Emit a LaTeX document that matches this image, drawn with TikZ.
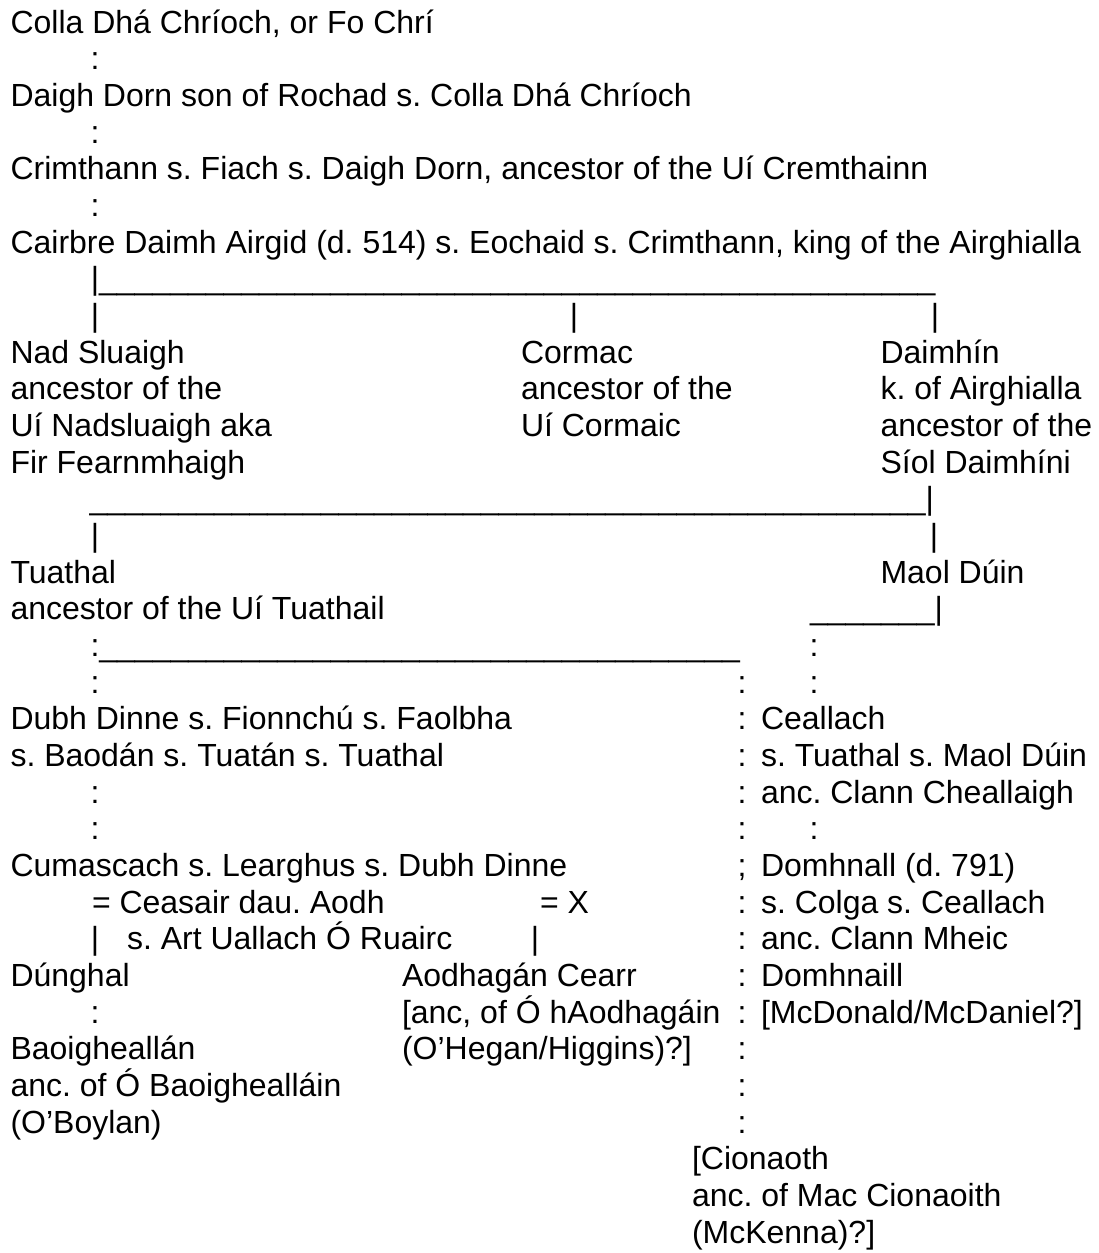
\documentclass[tikz,border=0pt]{standalone}
\usepackage{fontspec}
\setmainfont{Liberation Sans}
\frenchspacing
\ExplSyntaxOn
\cs_new:Npn \usrep #1 {\prg_replicate:nn{#1}{\textunderscore}}
\ExplSyntaxOff
\newcommand\fsz{\fontsize{32}{36.67}\selectfont\frenchspacing}
\tikzset{
  txt/.style={anchor=base west, inner sep=0pt, outer sep=0pt, font=\fsz},
  ctr/.style={anchor=base, inner sep=0pt, outer sep=0pt, font=\fsz}
}
\newcommand\txtnode[4]{\node[txt] (#1) at (#2,{33+(#3-1)*36.67}) {#4};}
\newcommand\glyphnode[4]{\node[ctr] (#1) at (#2,{33+(#3-1)*36.67}) {#4};}
\begin{document}
\begin{tikzpicture}[x=1pt,y=-1pt]
\fill[white] (0,0) rectangle (1098,1253);
\useasboundingbox (0,0) rectangle (1098,1253);
% rows 1-7
\txtnode{a1}{10.5}{1}{Colla Dhá Chríoch, or Fo Chrí}
\glyphnode{c2}{95}{2}{:}
\txtnode{a3}{10.5}{3}{Daigh Dorn son of Rochad s. Colla Dhá Chríoch}
\glyphnode{c4}{95}{4}{:}
\txtnode{a5}{10.5}{5}{Crimthann s. Fiach s. Daigh Dorn, ancestor of the Uí Cremthainn}
\glyphnode{c6}{95}{6}{:}
\txtnode{a7}{10.5}{7}{Cairbre Daimh Airgid (d. 514) s. Eochaid s. Crimthann, king of the Airghialla}
% rows 8-9
\txtnode{l8}{90.8}{8}{|\usrep{47}}
\glyphnode{p9a}{95}{9}{|}
\glyphnode{p9b}{574}{9}{|}
\glyphnode{p9c}{935}{9}{|}
% rows 10-13
\txtnode{a10}{10.5}{10}{Nad Sluaigh}
\txtnode{b10}{521}{10}{Cormac}
\txtnode{d10}{880.5}{10}{Daimhín}
\txtnode{a11}{10.5}{11}{ancestor of the}
\txtnode{b11}{521}{11}{ancestor of the}
\txtnode{d11}{880.5}{11}{k. of Airghialla}
\txtnode{a12}{10.5}{12}{Uí Nadsluaigh aka}
\txtnode{b12}{521}{12}{Uí Cormaic}
\txtnode{d12}{880.5}{12}{ancestor of the}
\txtnode{a13}{10.5}{13}{Fir Fearnmhaigh}
\txtnode{d13}{880.5}{13}{Síol Daimhíni}
% rows 14-17
\txtnode{l14}{89.5}{14}{\usrep{47}|}
\glyphnode{p15a}{95}{15}{|}
\glyphnode{p15b}{934}{15}{|}
\txtnode{a16}{10.5}{16}{Tuathal}
\txtnode{d16}{880.5}{16}{Maol Dúin}
\txtnode{a17}{10.5}{17}{ancestor of the Uí Tuathail}
\txtnode{l17}{810}{17}{\usrep{7}|}
% rows 18-19
\txtnode{l18}{90.5}{18}{:\usrep{36}}
\glyphnode{c18}{814}{18}{:}
\glyphnode{c19a}{95}{19}{:}
\glyphnode{c19b}{742}{19}{:}
\glyphnode{c19c}{814}{19}{:}
% rows 20-24
\txtnode{a20}{10.5}{20}{Dubh Dinne s. Fionnchú s. Faolbha}
\glyphnode{c20}{742}{20}{:}
\txtnode{e20}{761}{20}{Ceallach}
\txtnode{a21}{10.5}{21}{s. Baodán s. Tuatán s. Tuathal}
\glyphnode{c21}{742}{21}{:}
\txtnode{e21}{761}{21}{s. Tuathal s. Maol Dúin}
\glyphnode{c22a}{95}{22}{:}
\glyphnode{c22b}{742}{22}{:}
\txtnode{e22}{761}{22}{anc. Clann Cheallaigh}
\glyphnode{c23a}{95}{23}{:}
\glyphnode{c23b}{742}{23}{:}
\glyphnode{c23c}{814}{23}{:}
\txtnode{a24}{10.5}{24}{Cumascach s. Learghus s. Dubh Dinne}
\glyphnode{c24}{742}{24}{;}
\txtnode{e24}{761}{24}{Domhnall (d. 791)}
% rows 25-31
\txtnode{a25}{92}{25}{= Ceasair dau. Aodh}
\txtnode{b25}{540}{25}{= X}
\glyphnode{c25}{742}{25}{:}
\txtnode{e25}{761}{25}{s. Colga s. Ceallach}
\glyphnode{p26a}{95}{26}{|}
\txtnode{a26}{127}{26}{s. Art Uallach Ó Ruairc}
\glyphnode{p26b}{535}{26}{|}
\glyphnode{c26}{742}{26}{:}
\txtnode{e26}{761}{26}{anc. Clann Mheic}
\txtnode{a27}{10.5}{27}{Dúnghal}
\txtnode{b27}{402}{27}{Aodhagán Cearr}
\glyphnode{c27}{742}{27}{:}
\txtnode{e27}{761}{27}{Domhnaill}
\glyphnode{c28a}{95}{28}{:}
\txtnode{b28}{402}{28}{[anc, of Ó hAodhagáin}
\glyphnode{c28b}{742}{28}{:}
\txtnode{e28}{761}{28}{[McDonald/McDaniel?]}
\txtnode{a29}{10.5}{29}{Baoigheallán}
\txtnode{b29}{402}{29}{(O’Hegan/Higgins)?]}
\glyphnode{c29}{742}{29}{:}
\txtnode{a30}{10.5}{30}{anc. of Ó Baoighealláin}
\glyphnode{c30}{742}{30}{:}
\txtnode{a31}{10.5}{31}{(O’Boylan)}
\glyphnode{c31}{742}{31}{:}
% rows 32-34
\txtnode{f32}{692}{32}{[Cionaoth}
\txtnode{f33}{692}{33}{anc. of Mac Cionaoith}
\txtnode{f34}{692}{34}{(McKenna)?]}
\end{tikzpicture}
\end{document}
